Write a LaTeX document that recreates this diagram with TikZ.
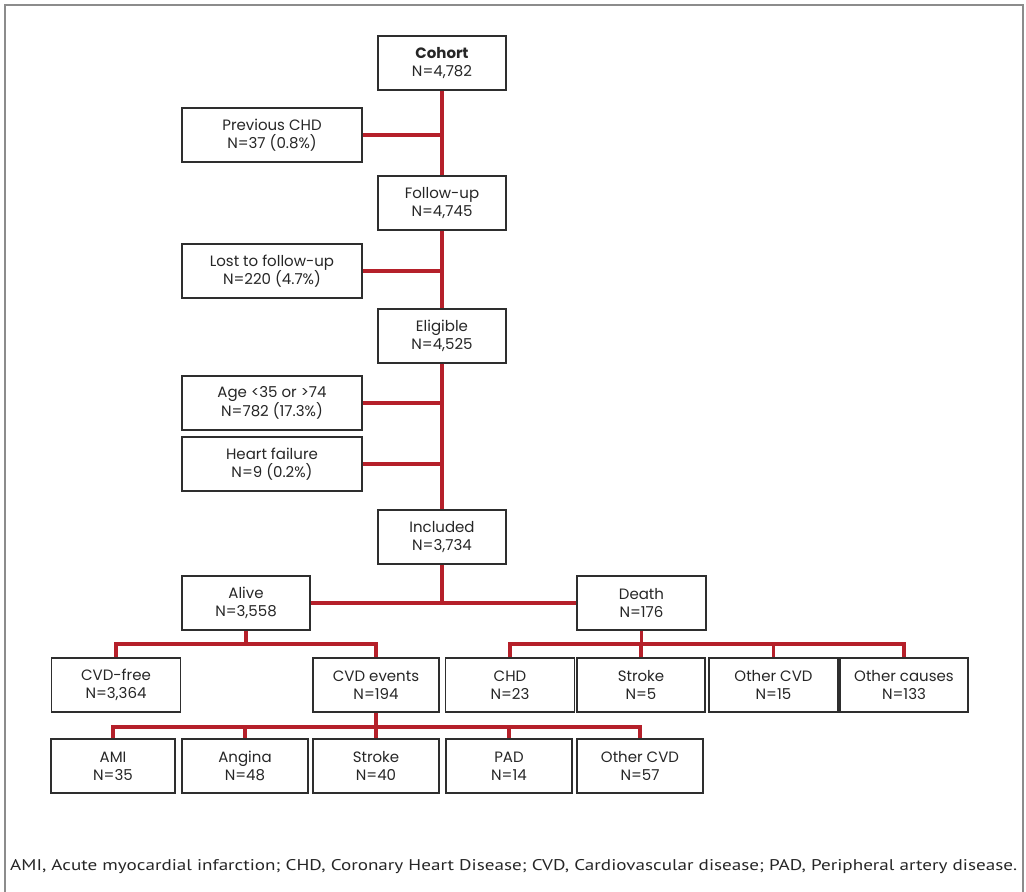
\documentclass[tikz,border=0pt]{standalone}
\usepackage{fontspec}
\setmainfont{Poppins}
\newfontfamily\footfont{PT Sans}
\usepackage{graphicx}
\definecolor{conred}{HTML}{B5202A}
\definecolor{boxgray}{HTML}{2E2E2E}
\definecolor{framegray}{HTML}{8C8C8C}
\begin{document}
\begin{tikzpicture}[x=1pt,y=-1pt,
  box/.style={draw=boxgray,line width=1.2pt,minimum height=54pt,inner sep=0pt,align=center,
    font=\fontsize{15}{18}\selectfont,text=black!85},
  mainbox/.style={box,minimum width=128pt},
  sidebox/.style={box,minimum width=180pt},
  conn/.style={draw=conred,line width=3.2pt,line join=miter,line cap=butt}]
\useasboundingbox (0,0) rectangle (1026,892);
\draw[framegray,line width=1.6pt] (5,893) -- (5,5) -- (1023,5) -- (1023,893);

\coordinate (b1) at (246,644);
\coordinate (b2) at (641,644);
\coordinate (b3) at (376,727);

% nodes
\node[mainbox] (cohort) at (442,63) {\textbf{Cohort}\\N=4,782};
\node[sidebox] (prev) at (272,135) {Previous CHD\\N=37 (0.8\%)};
\node[mainbox] (follow) at (442,203) {Follow-up\\N=4,745};
\node[sidebox] (lost) at (272,271) {Lost to follow-up\\N=220 (4.7\%)};
\node[mainbox] (elig) at (442,336) {Eligible\\N=4,525};
\node[sidebox] (age) at (272,403) {Age <35 or >74\\N=782 (17.3\%)};
\node[sidebox] (hf) at (272,464) {Heart failure\\N=9 (0.2\%)};
\node[mainbox] (incl) at (442,537) {Included\\N=3,734};
\node[box,minimum width=128pt] (alive) at (246,603) {Alive\\N=3,558};
\node[box,minimum width=129pt] (death) at (641.5,603) {Death\\N=176};
\node[box,minimum width=129pt] (cvdfree) at (116,685) {CVD-free\\N=3,364};
\node[box,minimum width=126pt] (cvdev) at (376,685) {CVD events\\N=194};
\node[box,minimum width=129pt] (chd) at (510,685) {CHD\\N=23};
\node[box,minimum width=128pt] (strokeA) at (641,685) {Stroke\\N=5};
\node[box,minimum width=129pt] (othA) at (773.5,685) {Other CVD\\N=15};
\node[box,minimum width=128pt] (othc) at (904,685) {Other causes\\N=133};
\node[box,minimum width=124pt] (ami) at (113,766) {AMI\\N=35};
\node[box,minimum width=126pt] (angina) at (245,766) {Angina\\N=48};
\node[box,minimum width=126pt] (strokeB) at (376,766) {Stroke\\N=40};
\node[box,minimum width=126pt] (pad) at (509,766) {PAD\\N=14};
\node[box,minimum width=126pt] (othB) at (640,766) {Other CVD\\N=57};

% main trunk
\draw[conn] (cohort.south) -- (follow.north);
\draw[conn] (follow.south) -- (elig.north);
\draw[conn] (elig.south) -- (incl.north);
\draw[conn] (prev.east) -- (prev.east -| cohort.south);
\draw[conn] (lost.east) -- (lost.east -| cohort.south);
\draw[conn] (age.east) -- (age.east -| cohort.south);
\draw[conn] (hf.east) -- (hf.east -| cohort.south);
% included split
\draw[conn] (incl.south) -- (incl.south |- alive.east);
\draw[conn] (alive.east) -- (death.west);
% alive branch
\draw[conn] (alive.south) -- (alive.south |- b1);
\draw[conn] (cvdfree.north) -- (cvdfree.north |- b1) -- (cvdev.north |- b1) -- (cvdev.north);
% death branch
\draw[conn] (death.south) -- (death.south |- b2);
\draw[conn] (chd.north) -- (chd.north |- b2) -- (othc.north |- b2) -- (othc.north);
\draw[conn] (strokeA.north) -- (strokeA.north |- b2);
\draw[conn] (othA.north) -- (othA.north |- b2);
% cvd events branch
\draw[conn] (cvdev.south) -- (cvdev.south |- b3);
\draw[conn] (ami.north) -- (ami.north |- b3) -- (othB.north |- b3) -- (othB.north);
\draw[conn] (angina.north) -- (angina.north |- b3);
\draw[conn] (strokeB.north) -- (strokeB.north |- b3);
\draw[conn] (pad.north) -- (pad.north |- b3);

% footnote
\node[inner sep=0pt,anchor=west,text=black!85] (foot) at (10,867)
  {\resizebox{1007pt}{\height}{\footfont\fontsize{15.5}{18}\selectfont AMI, Acute myocardial infarction; CHD, Coronary Heart Disease; CVD, Cardiovascular disease; PAD, Peripheral artery disease.}};
\end{tikzpicture}
\end{document}
